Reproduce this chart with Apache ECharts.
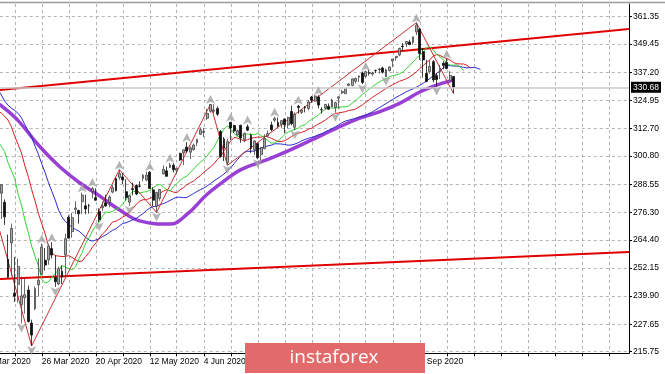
<!DOCTYPE html>
<html>
<head>
<meta charset="utf-8">
<script src="https://cdn.jsdelivr.net/npm/echarts@6/dist/echarts.min.js"></script>
<style>
  html, body { margin: 0; padding: 0; background: #fff; }
  #chart { width: 665px; height: 374px; }
</style>
</head>
<body>
<div id="chart"></div>
<script>
// trading days; the first category (4 Mar) sits just left of the window
const firstDay = '2020-03-04';
const dayCount = 191;
const holidays = ['2020-04-10', '2020-05-25', '2020-07-03', '2020-09-07', '2020-11-26', '2020-12-25'];
const months = ['Jan', 'Feb', 'Mar', 'Apr', 'May', 'Jun', 'Jul', 'Aug', 'Sep', 'Oct', 'Nov', 'Dec'];

// daily bars from 10 Mar 2020: [open, high, low, close]
const candleStart = '2020-03-10';
const candles = [
  [284.64, 288.52, 273.46, 288.42], [280.70, 281.94, 270.88, 274.36], [255.94, 266.66, 247.68, 248.11],
  [263.09, 271.48, 248.52, 269.32], [241.18, 256.90, 237.36, 239.85], [245.04, 256.17, 237.07, 252.80],
  [236.25, 248.37, 228.02, 240.00], [239.25, 247.38, 232.22, 240.51], [242.53, 244.47, 228.50, 228.80],
  [228.19, 229.68, 218.26, 222.95], [234.42, 244.10, 233.80, 243.15], [244.87, 256.35, 239.75, 246.79],
  [249.52, 262.80, 249.05, 261.20], [255.52, 260.81, 251.05, 253.42], [255.70, 262.43, 253.53, 261.65],
  [260.56, 263.33, 256.22, 257.75], [247.98, 257.66, 243.90, 246.15], [245.19, 252.68, 244.59, 251.83],
  [250.76, 253.32, 245.22, 248.19], [257.84, 267.00, 248.17, 264.86], [274.21, 275.03, 264.89, 265.13],
  [267.96, 276.00, 265.25, 274.03], [277.58, 281.20, 275.47, 278.20], [277.14, 277.51, 271.41, 275.66],
  [280.98, 284.90, 275.51, 283.79], [279.15, 283.94, 275.46, 277.76], [279.15, 280.03, 275.76, 279.10],
  [285.38, 287.30, 282.40, 286.64], [282.61, 286.79, 281.35, 281.59], [276.73, 278.04, 272.02, 273.04],
  [278.35, 281.00, 276.91, 279.10], [280.49, 283.94, 278.75, 279.08], [280.73, 283.70, 278.50, 282.97],
  [285.12, 288.27, 284.62, 287.05], [291.02, 291.40, 285.40, 285.73], [291.53, 294.88, 290.41, 293.21],
  [291.71, 293.32, 288.59, 290.48], [285.31, 290.66, 281.52, 282.79], [280.74, 283.90, 279.13, 283.57],
  [286.64, 289.25, 283.71, 286.19], [288.04, 288.46, 283.78, 284.25], [287.75, 289.78, 287.13, 287.68],
  [291.09, 292.95, 289.86, 292.44], [290.34, 294.00, 289.88, 292.50], [293.79, 294.24, 286.52, 286.67],
  [286.06, 287.19, 278.97, 281.60], [278.95, 285.11, 276.30, 284.97], [282.37, 286.33, 281.34, 286.28],
  [293.05, 296.75, 292.70, 295.00], [294.35, 296.21, 291.95, 291.97], [295.82, 297.87, 295.57, 296.93],
  [296.79, 297.67, 293.69, 294.88], [294.57, 295.63, 293.22, 295.44], [301.93, 302.19, 298.69, 299.08],
  [302.12, 303.57, 296.87, 303.53], [304.65, 306.84, 302.24, 302.97], [302.46, 304.96, 299.47, 304.32],
  [303.62, 306.21, 303.06, 305.55], [306.55, 308.13, 305.10, 308.08], [310.24, 313.22, 309.94, 312.18],
  [311.11, 313.00, 309.08, 311.36], [317.23, 321.27, 316.47, 319.34], [320.22, 323.41, 319.63, 323.20],
  [320.30, 323.28, 319.36, 320.79], [321.42, 322.39, 318.22, 319.00], [311.46, 312.15, 300.01, 300.61],
  [308.24, 309.08, 298.60, 304.21], [298.02, 308.28, 296.74, 307.05], [315.48, 315.64, 307.67, 312.96],
  [314.07, 314.39, 310.86, 311.66], [310.01, 312.30, 309.51, 311.78], [314.17, 314.38, 306.53, 308.64],
  [307.99, 311.05, 306.75, 310.62], [313.49, 314.50, 311.61, 312.05], [309.84, 310.51, 302.10, 304.09],
  [303.47, 307.64, 301.34, 307.35], [306.16, 306.39, 299.42, 300.05], [301.41, 304.61, 298.93, 304.46],
  [303.99, 310.20, 303.82, 308.36], [309.57, 311.89, 309.07, 310.52], [314.24, 315.70, 311.51, 312.23],
  [316.37, 317.88, 315.56, 317.05], [315.38, 317.52, 313.37, 313.78], [314.61, 316.50, 313.09, 316.18],
  [316.84, 317.10, 310.68, 314.38], [314.31, 317.88, 312.76, 317.59], [320.13, 322.71, 314.13, 314.84],
  [313.30, 319.76, 312.00, 318.92], [322.41, 323.04, 319.26, 321.85], [319.79, 321.28, 319.09, 320.79],
  [321.88, 322.57, 319.74, 321.72], [321.43, 325.13, 320.62, 324.32], [326.45, 326.93, 323.94, 325.01],
  [324.62, 327.20, 324.50, 326.86], [326.47, 327.23, 321.48, 322.96], [320.95, 321.99, 319.25, 320.88],
  [321.63, 323.41, 320.78, 323.22], [322.43, 323.64, 320.85, 321.17], [322.12, 325.73, 322.08, 325.12],
  [321.90, 324.41, 319.64, 323.96], [325.90, 326.63, 321.33, 326.52], [328.32, 329.62, 327.73, 328.79],
  [327.86, 330.06, 327.86, 330.06], [331.47, 332.39, 331.18, 332.11], [331.48, 334.46, 331.13, 334.33],
  [333.28, 334.88, 332.30, 334.57], [335.06, 335.77, 332.96, 335.57], [336.85, 337.54, 331.99, 332.80],
  [335.44, 337.70, 334.86, 337.44], [336.96, 338.25, 335.83, 336.83], [336.41, 337.42, 335.62, 336.84],
  [337.94, 338.34, 336.85, 337.91], [338.34, 339.10, 336.61, 338.64], [339.05, 339.61, 336.62, 337.23],
  [335.36, 338.80, 335.22, 338.28], [337.92, 339.72, 337.55, 339.48], [342.12, 343.00, 339.45, 342.92],
  [343.53, 344.21, 342.27, 344.12], [344.76, 347.86, 344.17, 347.57], [348.51, 349.90, 346.53, 348.33],
  [349.44, 350.72, 348.15, 350.58], [350.35, 351.30, 348.98, 349.31], [350.21, 352.71, 349.24, 352.60],
  [354.67, 358.75, 353.43, 357.70], [355.87, 356.38, 342.59, 345.39], [346.13, 347.83, 334.87, 342.57],
  [336.71, 342.64, 332.88, 333.21], [337.55, 342.46, 336.61, 339.79], [341.82, 342.53, 332.85, 333.89],
  [335.82, 336.97, 331.00, 334.06], [337.49, 340.38, 334.22, 338.46], [341.12, 342.02, 338.47, 340.17],
  [341.51, 343.06, 338.52, 338.82], [333.56, 337.70, 333.56, 335.84], [335.37, 335.49, 327.97, 330.68]
];

// Alligator lines, starting at 9 Mar (they run past the last bar)
const lineStart = '2020-03-09';
const lips = [
  307, 305, 302.7, 297.9, 294.5, 290.9, 284.2, 279.4, 272.9, 267.6,
  261.7, 257.3, 253.1, 247.3, 245.6, 246.1, 248.1, 249.7, 251.4, 253.1,
  252.6, 251.8, 251.3, 252.6, 256.1, 259.0, 262.9, 265.2, 268.2, 270.5,
  272.0, 274.6, 276.5, 276.2, 276.8, 277.7, 278.4, 280.0, 281.7, 283.9,
  285.3, 285.5, 284.7, 285.1, 285.3, 285.9, 287.0, 288.0, 288.5, 287.4,
  286.1, 285.6, 287.4, 288.7, 290.3, 291.4, 292.0, 293.7, 295.0, 296.9,
  298.0, 299.3, 300.8, 302.9, 304.5, 307.4, 310.2, 312.4, 314.0, 312.4,
  310.7, 309.1, 309.6, 310.2, 310.3, 310.3, 310.0, 310.6, 309.7, 308.7,
  307.5, 306.4, 306.5, 307.3, 308.6, 310.2, 311.2, 311.9, 312.3, 312.9,
  314.0, 314.4, 315.8, 316.7, 317.6, 318.7, 320.0, 321.2, 321.8, 321.6,
  321.7, 321.8, 322.2, 322.2, 322.6, 323.8, 324.8, 326.2, 327.5, 328.7,
  329.9, 330.9, 332.0, 333.0, 333.7, 334.5, 335.2, 335.8, 336.0, 336.5,
  337.4, 338.6, 340.1, 341.7, 343.2, 344.6, 345.9, 347.9, 348.2, 346.8,
  345.0, 343.9, 342.7, 341.0, 340.3, 340.3, 340.4, 339.4, 337.9
];
const teeth = [
  320.5, 319.5, 318.1, 316.4, 313.6, 309.3, 305.8, 302.1, 296.5, 291.9,
  286.3, 281.3, 275.9, 271.4, 267.0, 261.6, 258.8, 257.5, 257.3, 257.1,
  257.2, 257.5, 256.7, 255.7, 254.9, 255.2, 257.1, 258.8, 261.2, 262.9,
  265.1, 266.9, 268.3, 270.4, 272.1, 272.5, 273.3, 274.3, 275.1, 276.5,
  278.0, 279.8, 281.2, 281.8, 281.8, 282.4, 282.9, 283.6, 284.6, 285.5,
  286.1, 285.7, 285.1, 284.9, 286.1, 287.1, 288.3, 289.2, 289.9, 291.2,
  292.3, 293.8, 294.9, 296.1, 297.4, 299.2, 300.7, 303.0, 305.3, 307.3,
  308.9, 308.6, 308.0, 307.3, 307.9, 308.5, 308.8, 309.0, 309.0, 309.5,
  309.1, 308.5, 307.8, 307.1, 307.1, 307.5, 308.3, 309.3, 310.1, 310.7,
  311.1, 311.6, 312.5, 312.9, 313.9, 314.7, 315.5, 316.4, 317.5, 318.6,
  319.3, 319.5, 319.8, 320.1, 320.6, 320.8, 321.2, 322.1, 323.0, 324.1,
  325.2, 326.3, 327.3, 328.2, 329.2, 330.2, 331.0, 331.8, 332.6, 333.3,
  333.8, 334.4, 335.2, 336.2, 337.4, 338.8, 340.1, 341.4, 342.6, 344.3,
  344.9, 344.5, 343.7, 343.2, 342.5, 341.4, 340.9, 340.8, 340.8, 340.2, 339.1
];
const jaw = [
  329.5, 327.4, 324.7, 322.9, 321.6, 320.6, 319.3, 317.4, 314.4, 311.8,
  309.1, 305.1, 301.6, 297.4, 293.5, 289.2, 285.4, 281.6, 277.2, 274.3,
  272.3, 271.0, 269.8, 268.9, 268.2, 266.9, 265.5, 264.3, 263.8, 264.3,
  264.8, 265.8, 266.5, 267.6, 268.5, 269.2, 270.4, 271.5, 271.8, 272.4,
  273.1, 273.7, 274.7, 275.8, 277.1, 278.2, 278.8, 279.0, 279.6, 280.1,
  280.7, 281.5, 282.3, 282.9, 282.9, 282.7, 282.8, 283.7, 284.5, 285.4,
  286.2, 286.8, 287.8, 288.8, 290.0, 290.9, 291.9, 293.0, 294.4, 295.7,
  297.5, 299.3, 301.0, 302.5, 302.8, 302.9, 302.9, 303.6, 304.3, 304.8,
  305.2, 305.5, 306.1, 306.1, 306.0, 305.8, 305.5, 305.6, 306.0, 306.6,
  307.4, 308.0, 308.5, 308.9, 309.4, 310.1, 310.5, 311.3, 312.0, 312.7,
  313.5, 314.4, 315.3, 316.0, 316.4, 316.8, 317.2, 317.7, 318.0, 318.5,
  319.3, 320.0, 320.9, 321.8, 322.7, 323.6, 324.5, 325.4, 326.3, 327.1,
  327.9, 328.7, 329.4, 330.0, 330.7, 331.5, 332.4, 333.4, 334.5, 335.6,
  336.7, 337.8, 339.2, 340.0, 340.1, 339.9, 339.9, 339.7, 339.3, 339.1,
  339.2, 339.3, 339.0, 338.4
];

// thick purple moving average
const slowMa = [
  ['2020-03-09', 323.5], ['2020-03-10', 322.7], ['2020-03-17', 316.2], ['2020-03-25', 305.6],
  ['2020-04-02', 296.6], ['2020-04-13', 289.4], ['2020-04-21', 283.6], ['2020-04-29', 277.4],
  ['2020-05-07', 272.6], ['2020-05-20', 271.2], ['2020-05-28', 275.4], ['2020-06-05', 284.2],
  ['2020-06-12', 289.9], ['2020-06-19', 294.9], ['2020-07-01', 299.3], ['2020-07-10', 303.0],
  ['2020-07-21', 307.8], ['2020-07-31', 313.3], ['2020-08-10', 317.2], ['2020-08-18', 320.0],
  ['2020-08-26', 323.7], ['2020-09-03', 328.6], ['2020-09-11', 331.6], ['2020-09-18', 333.9]
];

const zigzag = [
  ['2020-03-04', 287.0], ['2020-03-23', 218.26], ['2020-04-29', 294.88], ['2020-05-14', 276.30],
  ['2020-06-08', 323.41], ['2020-06-15', 296.74], ['2020-09-02', 358.75], ['2020-09-18', 327.97]
];

// channel lines: value at the first and the last category
const channelTop = [329.0, 356.0];
const channelBottom = [247.1, 259.1];

const fractalUp = ['2020-03-26', '2020-03-31', '2020-04-14', '2020-04-17', '2020-04-29', '2020-05-12',
  '2020-05-20', '2020-05-28', '2020-06-08', '2020-06-16', '2020-06-23', '2020-07-06', '2020-07-15',
  '2020-07-23', '2020-08-12', '2020-09-02', '2020-09-16'];
const fractalDown = ['2020-03-18', '2020-03-23', '2020-04-01', '2020-04-21', '2020-05-04', '2020-05-14',
  '2020-06-15', '2020-06-26', '2020-07-14', '2020-07-30', '2020-08-11', '2020-08-20', '2020-09-11'];

const priceTicks = [215.75, 227.65, 239.90, 252.15, 264.40, 276.30, 288.55, 300.80, 312.70, 324.95, 337.20, 349.45, 361.35];
const lastPrice = 330.68;

function tradingDays(start, n) {
  const out = [];
  const d = new Date(start + 'T00:00:00Z');
  while (out.length < n) {
    const wd = d.getUTCDay();
    const iso = d.toISOString().slice(0, 10);
    if (wd !== 0 && wd !== 6 && holidays.indexOf(iso) < 0) out.push(iso);
    d.setUTCDate(d.getUTCDate() + 1);
  }
  return out;
}

const days = tradingDays(firstDay, dayCount);
const pos = d => days.indexOf(d);
function place(start, values) {
  const out = new Array(days.length).fill('-');
  const s = pos(start);
  values.forEach((v, i) => { out[s + i] = v; });
  return out;
}

const k0 = pos(candleStart);
const lastIdx = k0 + candles.length - 1;
const firstCat = days[0], lastCat = days[days.length - 1];
const hi = {}, lo = {};
candles.forEach((r, i) => { hi[days[k0 + i]] = r[1]; lo[days[k0 + i]] = r[2]; });

const fmtDate = d => +d.slice(8) + ' ' + months[+d.slice(5, 7) - 1] + ' ' + d.slice(0, 4);
const font = 'Liberation Sans';
const gridLine = { color: '#b4b4b4', width: 1, type: [3, 3] };

function line(name, data, color, width, extra) {
  return Object.assign({
    name, type: 'line', data, symbol: 'none', silent: true,
    lineStyle: { color, width }, z: 3
  }, extra || {});
}

var chartDom = document.getElementById('chart');
var myChart = echarts.init(chartDom);

var option = {
  animation: false,
  backgroundColor: '#fff',
  grid: { left: -12.25, right: 36, top: 4, bottom: 20.7, containLabel: false, outerBoundsMode: 'none' },
  xAxis: {
    type: 'category',
    data: days,
    boundaryGap: false,
    axisLine: { lineStyle: { color: '#000', width: 1 } },
    axisTick: { interval: 7, length: 3, lineStyle: { color: '#000' } },
    axisLabel: {
      interval: (i) => i % 16 === 0 && i <= lastIdx,
      formatter: fmtDate,
      align: 'left',
      margin: 4,
      fontSize: 8.5,
      fontFamily: font,
      color: '#000'
    },
    splitLine: { show: true, interval: 7, lineStyle: gridLine }
  },
  yAxis: {
    type: 'value',
    position: 'right',
    min: 215.05,
    max: 366.87,
    axisLine: { show: true, lineStyle: { color: '#000', width: 1 } },
    axisTick: { show: true, length: 3, customValues: priceTicks, lineStyle: { color: '#000' } },
    axisLabel: {
      customValues: priceTicks,
      formatter: v => v.toFixed(2),
      margin: 4,
      fontSize: 8.5,
      fontFamily: font,
      color: '#000'
    },
    splitLine: { show: true, lineStyle: gridLine }
  },
  series: [
    line('channel top', [[firstCat, channelTop[0]], [lastCat, channelTop[1]]], '#e00000', 2),
    line('channel bottom', [[firstCat, channelBottom[0]], [lastCat, channelBottom[1]]], '#e00000', 2),
    line('ma slow', slowMa, '#9a3fd4', 3.5, { smooth: 0.4 }),
    line('jaw', place(lineStart, jaw), '#2a2ad0', 1),
    line('teeth', place(lineStart, teeth), '#d42020', 1),
    line('lips', place(lineStart, lips), '#33d433', 1),
    line('zigzag', zigzag, '#c43030', 1),
    {
      name: 'price',
      type: 'candlestick',
      data: place(candleStart, candles.map(r => [r[0], r[3], r[2], r[1]])),
      barWidth: 2.4,
      silent: true,
      z: 4,
      itemStyle: {
        color: '#a8a8a8', borderColor: '#444',
        color0: '#111', borderColor0: '#111', borderWidth: 0.8
      },
      markLine: {
        silent: true,
        symbol: ['none', 'none'],
        data: [{ yAxis: lastPrice }],
        lineStyle: { color: '#c8c8c8', width: 1.5, type: 'solid' },
        label: {
          show: true, position: 'end', distance: 2,
          formatter: lastPrice.toFixed(2),
          backgroundColor: '#000', color: '#fff',
          fontSize: 8.5, fontFamily: font, padding: [1, 2, 1, 2]
        }
      }
    },
    {
      name: 'fractal up', type: 'scatter', silent: true, z: 5,
      data: fractalUp.map(d => [d, hi[d]]),
      symbol: 'arrow', symbolSize: [7, 9], symbolOffset: [0, -9],
      itemStyle: { color: '#a2a2a2' }
    },
    {
      name: 'fractal down', type: 'scatter', silent: true, z: 5,
      data: fractalDown.map(d => [d, lo[d]]),
      symbol: 'arrow', symbolSize: [7, 9], symbolOffset: [0, 9], symbolRotate: 180,
      itemStyle: { color: '#a2a2a2' }
    }
  ],
  graphic: [
    { type: 'line', shape: { x1: 0, y1: 2.5, x2: 665, y2: 2.5 }, style: { stroke: '#9a9a9a', lineWidth: 1.5 }, z: 10 },
    { type: 'rect', shape: { x: 245, y: 343, width: 180, height: 30 }, style: { fill: '#e26a6a' }, z: 20 },
    {
      type: 'text', x: 334, y: 358, z: 21,
      style: { text: 'instaforex', fill: '#fff', font: '19px "Open Sans"', align: 'center', verticalAlign: 'middle' }
    }
  ]
};

option && myChart.setOption(option);
</script>
</body>
</html>
